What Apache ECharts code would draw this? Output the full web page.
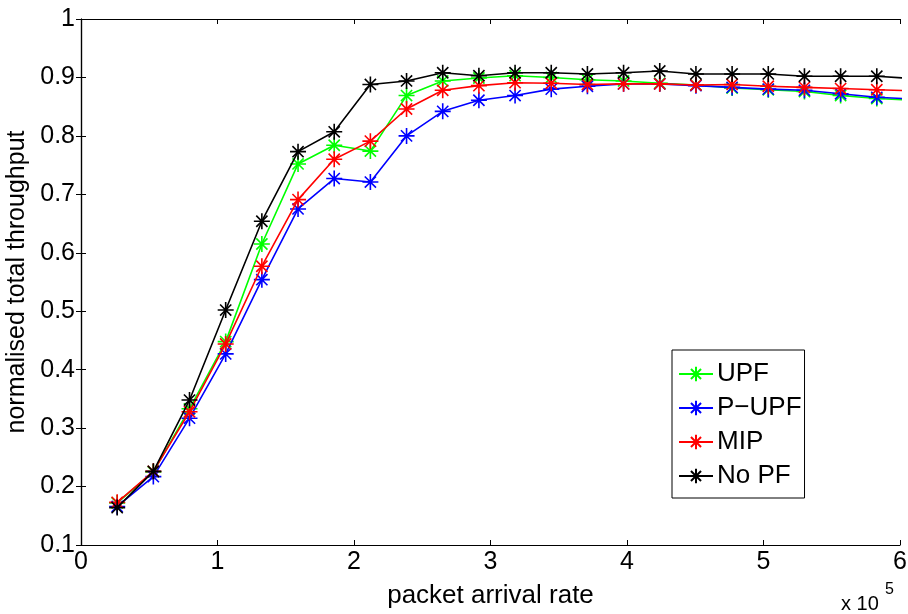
<!DOCTYPE html>
<html>
<head>
<meta charset="utf-8">
<script src="https://cdn.jsdelivr.net/npm/echarts@6/dist/echarts.min.js"></script>
<style>
html,body{margin:0;padding:0;background:#fff;}
#chart{width:908px;height:614px;}
</style>
</head>
<body>
<div id="chart"></div>
<script>
// packet arrival rate (x 10^5)
var rates = [0.265, 0.53, 0.795, 1.06, 1.325, 1.59, 1.855, 2.12, 2.385, 2.65, 2.915, 3.18, 3.445, 3.71, 3.975, 4.24, 4.505, 4.77, 5.035, 5.3, 5.565, 5.83, 6.095];
var seriesNames = ['UPF', 'P\u2212UPF', 'MIP', 'No PF'];
var upf   = [0.172, 0.225, 0.333, 0.448, 0.615, 0.752, 0.784, 0.774, 0.869, 0.894, 0.899, 0.903, 0.900, 0.896, 0.894, 0.890, 0.887, 0.882, 0.879, 0.876, 0.869, 0.864, 0.861];
var pupf  = [0.166, 0.217, 0.317, 0.427, 0.554, 0.675, 0.727, 0.721, 0.800, 0.842, 0.861, 0.869, 0.880, 0.885, 0.889, 0.889, 0.886, 0.883, 0.880, 0.878, 0.872, 0.866, 0.863];
var mip   = [0.173, 0.226, 0.328, 0.444, 0.577, 0.691, 0.760, 0.791, 0.846, 0.878, 0.886, 0.891, 0.890, 0.888, 0.889, 0.889, 0.887, 0.888, 0.885, 0.883, 0.881, 0.879, 0.877];
var nopf  = [0.164, 0.226, 0.348, 0.502, 0.654, 0.773, 0.807, 0.888, 0.894, 0.908, 0.903, 0.908, 0.908, 0.906, 0.908, 0.911, 0.906, 0.906, 0.906, 0.902, 0.902, 0.902, 0.898];
var colors = ['#00ff00', '#0000ff', '#ff0000', '#000000'];
var xTicks = [0, 1, 2, 3, 4, 5, 6];
var yTicks = ['0.1', '0.2', '0.3', '0.4', '0.5', '0.6', '0.7', '0.8', '0.9', '1'];

var FONT = '"Liberation Sans", Arial, Helvetica, sans-serif';
var asterisk = 'path://M10 0 L10 20 M0 10 L20 10 M3 3 L17 17 M3 17 L17 3';

function pairs(xs, ys) {
  return ys.map(function (v, i) { return [xs[i], v]; });
}
var allValues = [upf, pupf, mip, nopf];

var chart = echarts.init(document.getElementById('chart'), null, {renderer: 'canvas'});

var axisLine = {show: true, lineStyle: {color: '#000', width: 1.2}};
var option = {
  backgroundColor: '#fff',
  animation: false,
  grid: {left: 81, right: 8, top: 19, bottom: 69, containLabel: false, outerBoundsMode: 'none'},
  xAxis: [{
    type: 'value', min: 0, max: 6, interval: 1, position: 'bottom',
    axisLine: axisLine,
    axisTick: {show: true, inside: true, length: 5, lineStyle: {color: '#000'}},
    splitLine: {show: false},
    axisLabel: {color: '#000', fontFamily: FONT, fontSize: 25, margin: 5,
      formatter: function (v) { return xTicks.indexOf(v) >= 0 ? String(v) : ''; }},
    name: 'packet arrival rate', nameLocation: 'middle', nameGap: 38,
    nameTextStyle: {color: '#000', fontFamily: FONT, fontSize: 26}
  }, {
    type: 'value', min: 0, max: 6, interval: 1, position: 'top',
    axisLine: axisLine,
    axisTick: {show: true, inside: true, length: 5, lineStyle: {color: '#000'}},
    axisLabel: {show: false}, splitLine: {show: false}
  }],
  yAxis: [{
    type: 'value', min: 0.1, max: 1, interval: 0.1, position: 'left',
    axisLine: axisLine,
    axisTick: {show: true, inside: true, length: 5, lineStyle: {color: '#000'}},
    splitLine: {show: false},
    axisLabel: {color: '#000', fontFamily: FONT, fontSize: 25, margin: 6,
      formatter: function (v) { return yTicks[Math.round(v * 10) - 1]; }},
    name: 'normalised total throughput', nameLocation: 'middle', nameGap: 43,
    nameTextStyle: {color: '#000', fontFamily: FONT, fontSize: 25}
  }, {
    type: 'value', min: 0.1, max: 1, interval: 0.1, position: 'right',
    axisLine: axisLine,
    axisTick: {show: true, inside: true, length: 5, lineStyle: {color: '#000'}},
    axisLabel: {show: false}, splitLine: {show: false}
  }],
  legend: {
    orient: 'vertical', left: 672, top: 350,
    padding: [11, 3, 9, 6],
    borderColor: '#000', borderWidth: 1, backgroundColor: '#fff',
    itemWidth: 34, itemHeight: 18, itemGap: 8,
    textStyle: {color: '#000', fontFamily: FONT, fontSize: 26, padding: [0, 0, 0, -1]},
    data: seriesNames
  },
  graphic: [{
    type: 'text', left: 841, top: 594,
    style: {text: 'x 10', fontFamily: FONT, fontSize: 20, fill: '#000'}
  }, {
    type: 'text', left: 885, top: 582,
    style: {text: '5', fontFamily: FONT, fontSize: 16, fill: '#000'}
  }],
  series: seriesNames.map(function (name, i) {
    return {
      name: name, type: 'line', xAxisIndex: 0, yAxisIndex: 0,
      data: pairs(rates, allValues[i]),
      clip: true,
      symbol: asterisk, symbolSize: 16,
      lineStyle: {color: colors[i], width: 1.6},
      itemStyle: {color: colors[i], borderColor: colors[i], borderWidth: 1.6},
      z: 2 + i
    };
  })
};
chart.setOption(option);
</script>
</body>
</html>
